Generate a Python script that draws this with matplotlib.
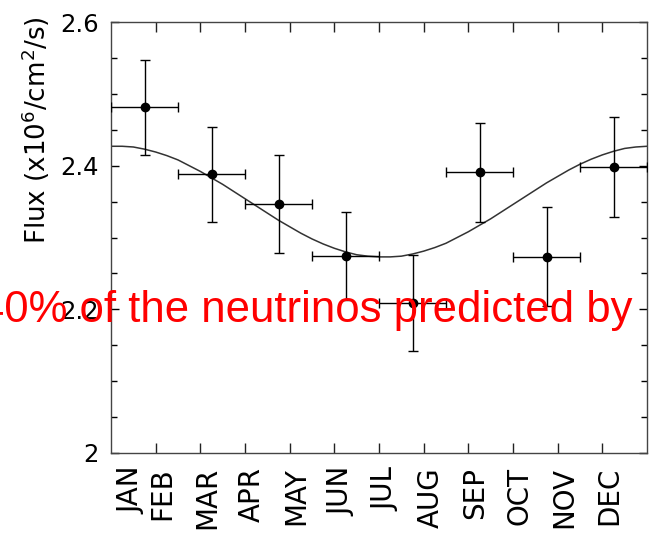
import matplotlib
matplotlib.use("Agg")
import matplotlib.pyplot as plt
from matplotlib.ticker import FixedLocator, MultipleLocator, NullFormatter

# month labels and where they sit on the axis (axis is in months, 0..12)
months = ["JAN", "FEB", "MAR", "APR", "MAY", "JUN",
          "JUL", "AUG", "SEP", "OCT", "NOV", "DEC"]
month_label_pos = [0.45, 1.15, 2.15, 3.15, 4.15, 5.15,
                   6.15, 7.15, 8.15, 9.15, 10.15, 11.15]
month_ticks = [1, 2, 3, 4, 5, 6, 7, 8, 9, 10, 11]

# measured flux in 8 bins of 1.5 months
bin_center = [0.75, 2.25, 3.75, 5.25, 6.75, 8.25, 9.75, 11.25]
bin_halfwidth = [0.75, 0.75, 0.75, 0.75, 0.75, 0.75, 0.75, 0.75]
flux = [2.481, 2.388, 2.347, 2.274, 2.209, 2.391, 2.273, 2.398]
flux_err = [0.066, 0.066, 0.068, 0.061, 0.067, 0.069, 0.069, 0.070]

curve_month = [0.0, 0.25, 0.5, 0.75, 1.0, 1.25, 1.5, 1.75, 2.0, 2.25, 2.5,
               2.75, 3.0, 3.25, 3.5, 3.75, 4.0, 4.25, 4.5, 4.75, 5.0, 5.25,
               5.5, 5.75, 6.0, 6.25, 6.5, 6.75, 7.0, 7.25, 7.5, 7.75, 8.0,
               8.25, 8.5, 8.75, 9.0, 9.25, 9.5, 9.75, 10.0, 10.25, 10.5,
               10.75, 11.0, 11.25, 11.5, 11.75, 12.0]
curve_flux = [2.427, 2.427, 2.426, 2.423, 2.419, 2.414, 2.408, 2.400, 2.392,
              2.383, 2.374, 2.364, 2.354, 2.344, 2.334, 2.324, 2.315, 2.306,
              2.298, 2.291, 2.285, 2.280, 2.276, 2.274, 2.273, 2.273, 2.274,
              2.277, 2.281, 2.286, 2.292, 2.300, 2.308, 2.317, 2.326, 2.336,
              2.346, 2.356, 2.366, 2.376, 2.385, 2.394, 2.402, 2.409, 2.415,
              2.420, 2.424, 2.426, 2.427]

ytick_vals = [2.0, 2.2, 2.4, 2.6]
ytick_text = ["2", "2.2", "2.4", "2.6"]

W, H = 649, 538
fig = plt.figure(figsize=(W / 100, H / 100), dpi=100)
ax = fig.add_axes([111 / W, (H - 453) / H, 536 / W, 431 / H])

ax.plot(curve_month, curve_flux, color="#333333", lw=1.1, zorder=2)
ax.errorbar(bin_center, flux, yerr=flux_err, xerr=bin_halfwidth,
            fmt="o", color="black", ms=6, elinewidth=1.0,
            capsize=3.6, capthick=1.0, zorder=3)

ax.set_xlim(0, 12)
ax.set_ylim(2.0, 2.6)

# x: month boundaries as ticks, labels as (invisible) minor ticks
ax.xaxis.set_major_locator(FixedLocator(month_ticks))
ax.xaxis.set_major_formatter(NullFormatter())
ax.xaxis.set_minor_locator(FixedLocator(month_label_pos))
ax.set_xticklabels(months, minor=True, rotation=90, fontsize=20)
ax.tick_params(axis="x", which="major", direction="in", length=7.5,
               width=1.0, top=True, bottom=True, color="#222222")
ax.tick_params(axis="x", which="minor", length=0, pad=10)

# y
ax.set_yticks(ytick_vals)
ax.set_yticklabels(ytick_text, fontsize=17.5)
ax.yaxis.set_minor_locator(MultipleLocator(0.05))
ax.tick_params(axis="y", which="major", direction="in", length=6,
               width=1.0, left=True, right=True, pad=9)
ax.tick_params(axis="y", which="minor", direction="in", length=4,
               width=1.0, left=True, right=True)

for s in ax.spines.values():
    s.set_color("#444444")
    s.set_linewidth(1.0)

fig.text(36 / W, 1 - 130 / H, r"Flux (x10$^6$/cm$^2$/s)", rotation=90,
         ha="center", va="center", fontsize=18.8)

# red overlay text from the slide
fig.text(633 / W, 1 - 322 / H, "40% of the neutrinos predicted by",
         color="red", fontsize=31.5, family="Liberation Sans",
         ha="right", va="baseline", zorder=10)

fig.savefig("out.png", dpi=100)
